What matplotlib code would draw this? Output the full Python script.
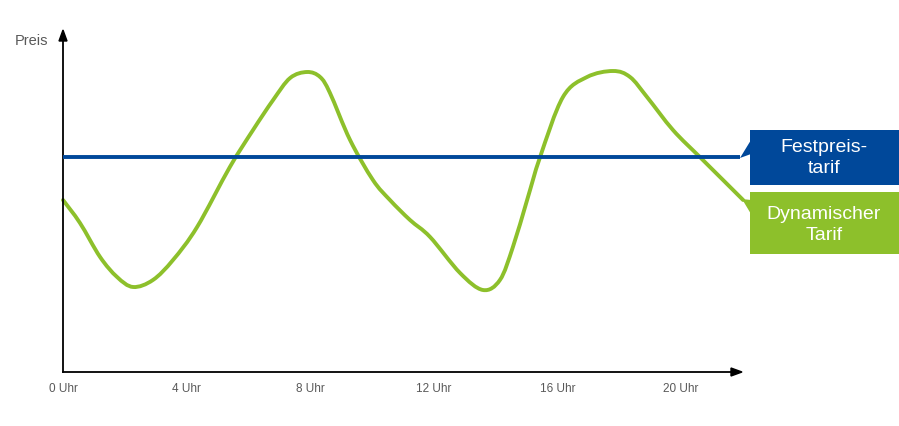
import matplotlib
matplotlib.use("Agg")
import matplotlib.pyplot as plt
from matplotlib.patches import Rectangle, Polygon, PathPatch
from matplotlib.path import Path

# hours of the day and dynamic price (arbitrary units)
hours = [0.00, 0.55, 1.20, 1.75, 2.27, 2.91, 3.56, 4.34, 5.40, 6.15,
         6.80, 7.35, 7.90, 8.32, 8.64, 9.29, 10.03, 10.58,
         11.23, 11.88, 12.85, 13.59, 14.14, 14.56, 15.02, 15.44,
         16.18, 16.96, 17.80, 18.35, 18.90, 19.74, 20.61,
         21.36, 22.01]
dynamic = [172, 149, 115, 95, 85, 92, 112, 145, 205, 242,
           272, 294, 300, 295, 279, 232, 192, 172,
           152, 135, 99, 82, 92, 125, 172, 215,
           275, 295, 301, 295, 275, 242, 215,
           192, 172]
fixed_price = 215
fixed_hours = [0.0, 21.9]

tick_hours = [0, 4, 8, 12, 16, 20]
tick_labels = ["0 Uhr", "4 Uhr", "8 Uhr", "12 Uhr", "16 Uhr", "20 Uhr"]

green = "#8dc02b"
blue = "#00489a"
grey = "#595959"

fig = plt.figure(figsize=(8.99, 4.26), dpi=100)
ax = fig.add_axes([0, 0, 1, 1])
# 30.9 px per hour, origin at pixel (63, 372)
ax.set_xlim(-63 / 30.9, (899 - 63) / 30.9)
ax.set_ylim(-54, 372)
ax.axis("off")


def px(x, y):
    return (x - 63) / 30.9, 372 - y


def smooth_path(xs, ys):
    # Catmull-Rom style cubic Bezier through the read points
    pts = list(zip(xs, ys))
    verts = [pts[0]]
    codes = [Path.MOVETO]
    n = len(pts)
    for i in range(n - 1):
        p0 = pts[i - 1] if i > 0 else pts[i]
        p1 = pts[i]
        p2 = pts[i + 1]
        p3 = pts[i + 2] if i + 2 < n else pts[i + 1]
        c1 = (p1[0] + (p2[0] - p0[0]) / 6, p1[1] + (p2[1] - p0[1]) / 6)
        c2 = (p2[0] - (p3[0] - p1[0]) / 6, p2[1] - (p3[1] - p1[1]) / 6)
        verts += [c1, c2, p2]
        codes += [Path.CURVE4] * 3
    return Path(verts, codes)


# axes with arrows
ax.plot([0, 0], [0, 332], color="black", lw=1.3)
ax.plot([0, 21.75], [0, 0], color="black", lw=1.3)
ax.add_patch(Polygon([px(63, 30), px(59, 41), px(67, 41)], closed=True, color="black"))
ax.add_patch(Polygon([px(742, 372), px(731, 368), px(731, 376)], closed=True, color="black"))

ax.plot(fixed_hours, [fixed_price, fixed_price], color=blue, lw=2.8, solid_capstyle="butt")
ax.add_patch(PathPatch(smooth_path(hours, dynamic), facecolor="none", edgecolor=green,
                       lw=2.8, capstyle="round", joinstyle="round"))

for h, lab in zip(tick_hours, tick_labels):
    ax.text(h, px(0, 389)[1], lab, ha="center", va="center", fontsize=8.5,
            color=grey, family="Liberation Sans")

ax.text(*px(31, 41), "Preis", ha="center", va="center", fontsize=10.5,
        color=grey, family="Liberation Sans")

# callout boxes
x0, _ = px(750, 0)
x1, _ = px(899, 0)
_, yb1 = px(0, 185)
_, yt1 = px(0, 130)
_, yb2 = px(0, 254)
_, yt2 = px(0, 192)
ax.add_patch(Rectangle((x0, yb1), x1 - x0, yt1 - yb1, color=blue, lw=0))
ax.add_patch(Rectangle((x0, yb2), x1 - x0, yt2 - yb2, color=green, lw=0))
ax.add_patch(Polygon([px(740, 158), px(751, 140), px(751, 154)], closed=True, color=blue, lw=0))
ax.add_patch(Polygon([px(742, 199), px(751, 200), px(751, 214)], closed=True, color=green, lw=0))

ax.text(*px(824, 158), "Festpreis-\ntarif", ha="center", va="center",
        fontsize=14, color="white", family="Liberation Sans", linespacing=1.3)
ax.text(*px(824, 225), "Dynamischer\nTarif", ha="center", va="center",
        fontsize=14, color="white", family="Liberation Sans", linespacing=1.3)

fig.savefig("out.png", dpi=100)
